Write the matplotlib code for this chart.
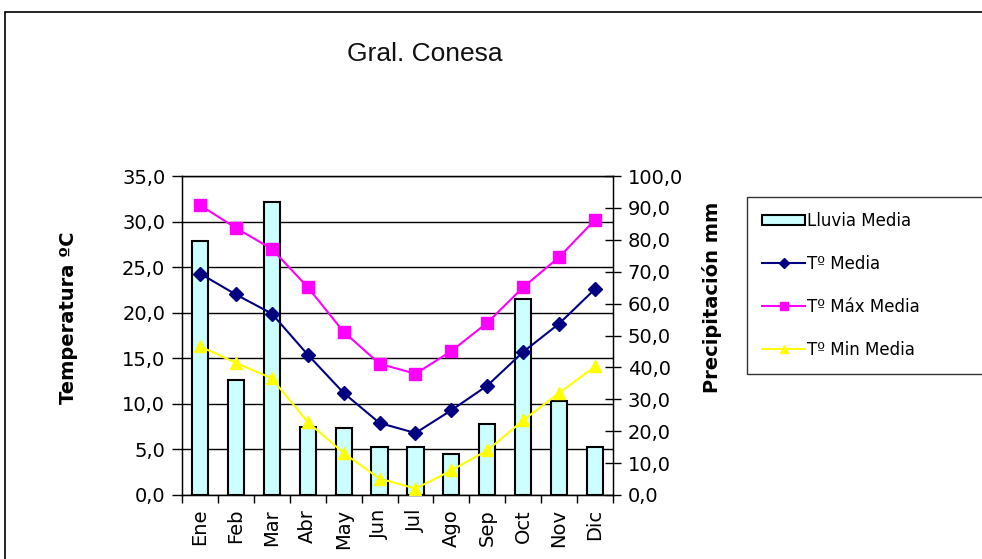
import matplotlib
matplotlib.use("Agg")
import matplotlib.pyplot as plt
from matplotlib.patches import Rectangle
from matplotlib.lines import Line2D

plt.rcParams["font.family"] = ["DejaVu Sans"]

# --- data ---
months = ["Ene", "Feb", "Mar", "Abr", "May", "Jun", "Jul", "Ago", "Sep", "Oct", "Nov", "Dic"]
lluvia = [79.6, 36.0, 92.0, 21.4, 20.9, 15.1, 15.1, 12.8, 22.3, 61.4, 29.5, 15.1]
t_media = [24.3, 22.0, 19.9, 15.4, 11.2, 7.9, 6.8, 9.3, 12.0, 15.7, 18.8, 22.6]
t_max = [31.8, 29.3, 27.0, 22.8, 17.9, 14.4, 13.3, 15.8, 18.9, 22.8, 26.1, 30.2]
t_min = [16.3, 14.5, 12.8, 8.0, 4.6, 1.8, 0.7, 2.7, 4.9, 8.2, 11.2, 14.1]
temp_ticks = [0, 5, 10, 15, 20, 25, 30, 35]
prec_ticks = [0, 10, 20, 30, 40, 50, 60, 70, 80, 90, 100]

C_BAR = "#CCFFFF"
C_MEDIA = "#000080"
C_MAX = "#FF00FF"
C_MIN = "#FFFF00"

W, H = 982, 559
fig = plt.figure(figsize=(W / 100, H / 100), dpi=100)

# outer frame of the chart area (runs off the right and bottom edges)
fig.patches.append(Rectangle((5 / W, -0.2), 1.0, 1.2 - 12 / H, transform=fig.transFigure,
                             fill=False, ec="black", lw=1.2))

fig.text(425 / W, 1 - 54 / H, "Gral. Conesa", ha="center", va="center", fontsize=19,
         family="Liberation Sans", color="#111111")

rect = [182 / W, 1 - 495 / H, (613 - 182) / W, (495 - 176) / H]
x = list(range(len(months)))

# temperature axis (left) with the grid
ax_t = fig.add_axes(rect)
ax_t.set_xlim(-0.5, len(months) - 0.5)
ax_t.set_ylim(0, 35)
ax_t.set_yticks(temp_ticks)
ax_t.set_yticklabels([f"{v:.1f}".replace(".", ",") for v in temp_ticks], fontsize=14)
ax_t.grid(axis="y", color="black", lw=1.0)
ax_t.set_axisbelow(True)
ax_t.set_xticks([i + 0.5 for i in x[:-1]] + [-0.5, len(months) - 0.5])
ax_t.set_xticklabels([])
ax_t.set_xticks(x, minor=True)
ax_t.set_xticklabels(months, minor=True, rotation=90, fontsize=14)
ax_t.tick_params(axis="x", which="minor", length=0, pad=10)
ax_t.tick_params(axis="x", which="major", length=6, width=1)
ax_t.tick_params(axis="y", length=7, width=1, pad=5)
for s in ax_t.spines.values():
    s.set_linewidth(1.0)

# precipitation axis (right) with the bars
ax_p = ax_t.twinx()
ax_p.bar(x, lluvia, width=0.45, color=C_BAR, edgecolor="black", lw=1.5, zorder=2)
ax_p.set_ylim(0, 100)
ax_p.set_yticks(prec_ticks)
ax_p.set_yticklabels([f"{v:.1f}".replace(".", ",") for v in prec_ticks], fontsize=14)
ax_p.tick_params(axis="y", direction="inout", length=11, width=1, pad=5)

# lines on top of the bars, on the temperature scale
ax_l = ax_t.twinx()
ax_l.set_ylim(0, 35)
ax_l.axis("off")
ax_l.plot(x, t_media, color=C_MEDIA, marker="D", ms=7, lw=1.5)
ax_l.plot(x, t_max, color=C_MAX, marker="s", ms=8, lw=1.5)
ax_l.plot(x, t_min, color=C_MIN, marker="^", ms=8, lw=1.5)

fig.text(68 / W, 1 - 318 / H, "Temperatura ºC", rotation=90, ha="center", va="center",
         fontsize=14, fontweight="bold")
fig.text(712 / W, 1 - 297 / H, "Precipitación mm", rotation=90, ha="center", va="center",
         fontsize=14, fontweight="bold")

handles = [
    Rectangle((0, 0), 1, 1, fc=C_BAR, ec="black", lw=1.5),
    Line2D([], [], color=C_MEDIA, marker="D", ms=5, lw=1.5),
    Line2D([], [], color=C_MAX, marker="s", ms=6, lw=1.5),
    Line2D([], [], color=C_MIN, marker="^", ms=6, lw=1.5),
]
labels = ["Lluvia Media", "Tº Media", "Tº Máx Media", "Tº Min Media"]
leg = fig.legend(handles, labels, loc="upper left",
                 bbox_to_anchor=(747 / W, 1 - 197 / H, 0.26, 0), mode="expand",
                 fontsize=12, frameon=True, fancybox=False, edgecolor="black",
                 handlelength=2.6, handletextpad=0.1, labelspacing=1.5,
                 borderpad=0.9, borderaxespad=0, numpoints=1, handleheight=0.6)
leg.get_frame().set_linewidth(1.0)

fig.savefig("out.png", dpi=100)
